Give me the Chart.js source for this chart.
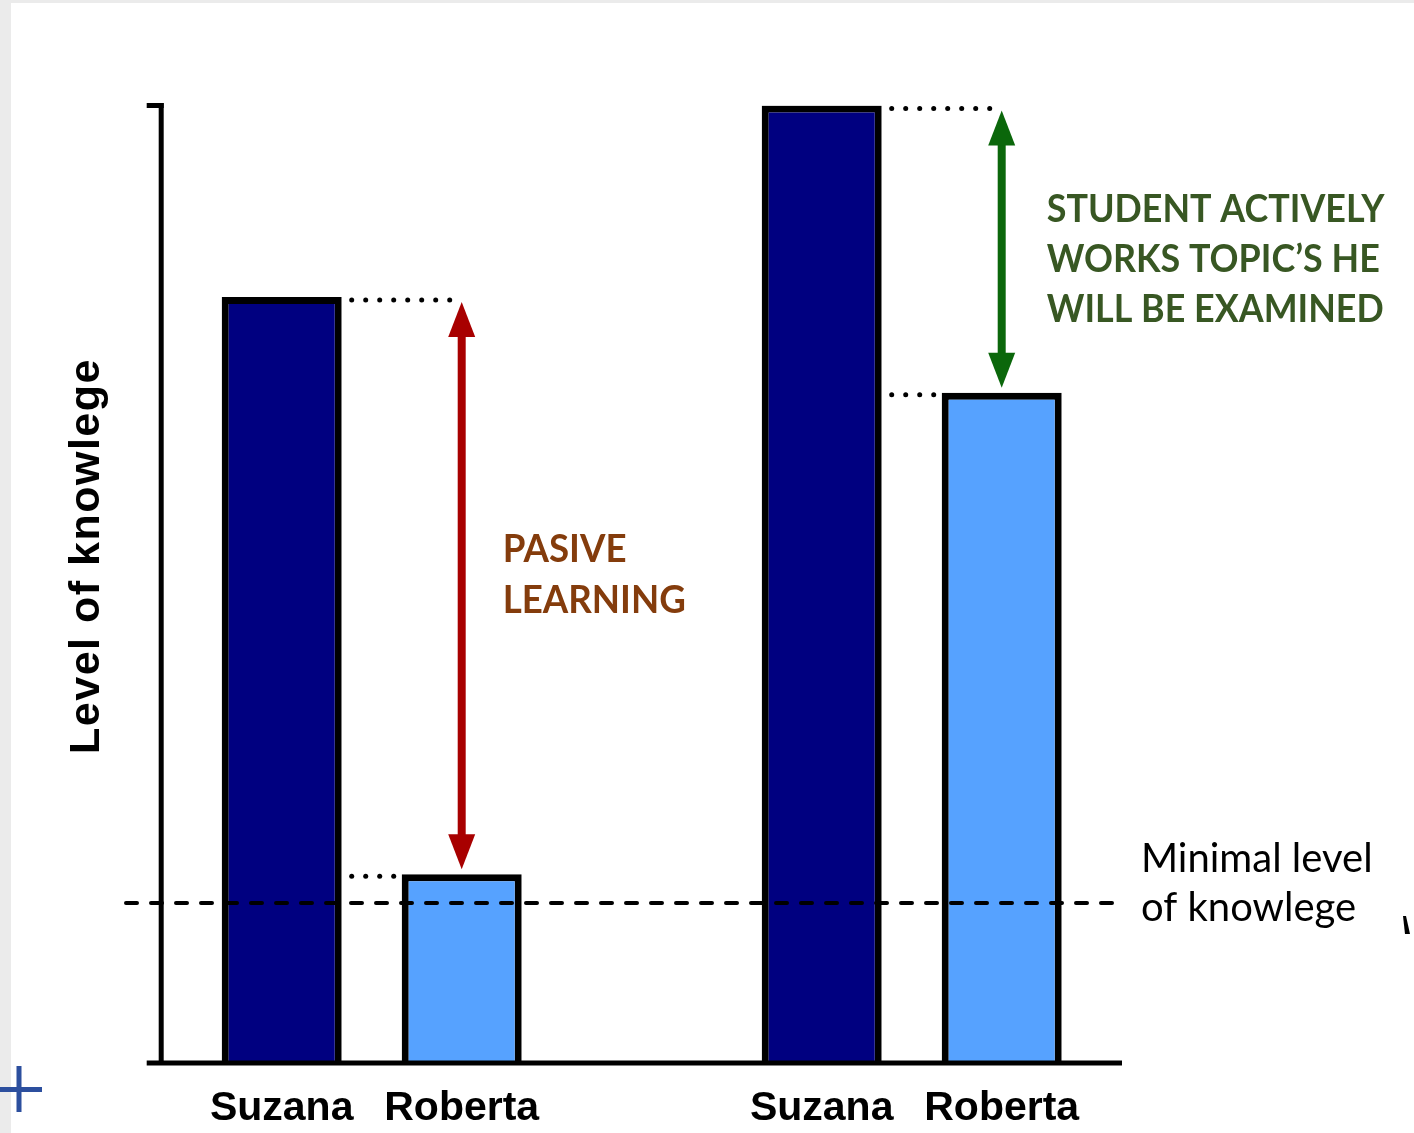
<!DOCTYPE html>
<html>
<head>
<meta charset="utf-8">
<title>Level of knowlege</title>
<script src="https://cdn.jsdelivr.net/npm/chart.js@4/dist/chart.umd.min.js"></script>
<style>
  html, body { margin: 0; padding: 0; background: #ffffff; }
  canvas { display: block; }
</style>
</head>
<body>
<canvas id="chart" width="1414" height="1133"></canvas>
<script>
// Knowledge levels of two students in two learning situations
const categories = ['Suzana', 'Roberta', '', 'Suzana', 'Roberta'];
const knowledge = [80, 19.7, null, 100, 70];
const studentKind = ['strong', 'weak', null, 'strong', 'weak'];
const minimalLevel = 16.7;
const levelMax = 100;

// pairs of bars whose gap is marked by an arrow: [upper bar, lower bar]
const gapPairs = [[0, 1], [3, 4]];

const yTitle = 'Level of knowlege';
const passiveLabel = ['PASIVE', 'LEARNING'];
const activeLabel = ['STUDENT ACTIVELY', 'WORKS TOPIC\u2019S HE', 'WILL BE EXAMINED'];
const minimalLabel = ['Minimal level', 'of knowlege'];

const kindColors = { strong: '#000080', weak: '#56a2ff' };
const arrowColors = ['#a80000', '#0b670b'];

function dottedLine(ctx, x1, x2, y) {
  ctx.fillStyle = '#000';
  for (let x = x1; x <= x2 + 0.5; x += 14) {
    ctx.beginPath();
    ctx.arc(x, y, 2.5, 0, Math.PI * 2);
    ctx.fill();
  }
}

function doubleArrow(ctx, x, yTop, yBottom, color) {
  const headLen = 35, headHalf = 13.5;
  ctx.strokeStyle = color;
  ctx.fillStyle = color;
  ctx.lineWidth = 8;
  ctx.lineCap = 'butt';
  ctx.beginPath();
  ctx.moveTo(x, yTop + headLen - 2);
  ctx.lineTo(x, yBottom - headLen + 2);
  ctx.stroke();
  ctx.beginPath();
  ctx.moveTo(x, yTop);
  ctx.lineTo(x + headHalf, yTop + headLen);
  ctx.lineTo(x - headHalf, yTop + headLen);
  ctx.closePath();
  ctx.fill();
  ctx.beginPath();
  ctx.moveTo(x, yBottom);
  ctx.lineTo(x + headHalf, yBottom - headLen);
  ctx.lineTo(x - headHalf, yBottom - headLen);
  ctx.closePath();
  ctx.fill();
}

// writes lines of text condensed horizontally by the given factor
function noteLines(ctx, lines, x, y0, step, squeeze) {
  lines.forEach((t, i) => {
    ctx.save();
    ctx.translate(x, y0 + i * step);
    ctx.scale(squeeze, 1);
    ctx.fillText(t, 0, 0);
    ctx.restore();
  });
}

const pageFrame = {
  id: 'pageFrame',
  beforeDraw(chart) {
    const ctx = chart.ctx;
    ctx.save();
    ctx.fillStyle = '#ebebeb';
    ctx.fillRect(0, 0, chart.width, chart.height);
    ctx.fillStyle = '#ffffff';
    ctx.fillRect(11, 3, chart.width - 11, chart.height - 3);
    ctx.restore();
  },
  afterDraw(chart) {
    const ctx = chart.ctx;
    ctx.save();
    // small blue cross in the corner
    ctx.fillStyle = '#2c4f9e';
    ctx.fillRect(0, 1087, 42, 5);
    ctx.fillRect(16.5, 1066, 5, 46);
    // clipped glyph at the right edge
    ctx.fillStyle = '#000';
    ctx.beginPath();
    ctx.moveTo(1403, 916);
    ctx.lineTo(1406, 916);
    ctx.lineTo(1410, 934);
    ctx.lineTo(1405, 934);
    ctx.closePath();
    ctx.fill();
    ctx.restore();
  }
};

const knowledgeMarks = {
  id: 'knowledgeMarks',
  afterDatasetsDraw(chart) {
    const ctx = chart.ctx;
    const ys = chart.scales.y;
    const bars = chart.getDatasetMeta(0).data;
    const base = ys.getPixelForValue(0);
    const top = ys.getPixelForValue(levelMax);
    const axisLeft = chart.chartArea.left - 30.5;
    ctx.save();

    // minimal level dashed line
    const yMin = ys.getPixelForValue(minimalLevel);
    ctx.strokeStyle = '#000';
    ctx.lineWidth = 4;
    ctx.lineCap = 'round';
    ctx.setLineDash([11, 14]);
    ctx.beginPath();
    ctx.moveTo(126, yMin);
    ctx.lineTo(1114, yMin);
    ctx.stroke();
    ctx.setLineDash([]);

    // axes
    ctx.lineCap = 'butt';
    ctx.lineWidth = 5;
    ctx.beginPath();
    ctx.moveTo(axisLeft, top - 2.5);
    ctx.lineTo(axisLeft, base);
    ctx.stroke();
    ctx.beginPath();
    ctx.moveTo(axisLeft - 14.5, top);
    ctx.lineTo(axisLeft + 2.5, top);
    ctx.stroke();
    ctx.beginPath();
    ctx.moveTo(axisLeft - 14.5, base);
    ctx.lineTo(1122, base);
    ctx.stroke();

    // gaps between the upper and the lower bar of each pair
    gapPairs.forEach(([hi, lo], k) => {
      const upper = bars[hi], lower = bars[lo];
      const yHi = ys.getPixelForValue(knowledge[hi]);
      const yLo = ys.getPixelForValue(knowledge[lo]);
      const upperRight = upper.x + upper.width / 2;
      const lowerLeft = lower.x - lower.width / 2;
      dottedLine(ctx, upperRight + 10, lower.x - 6, yHi + 3);
      dottedLine(ctx, upperRight + 10, lowerLeft - 3, yLo + 2);
      doubleArrow(ctx, lower.x, yHi + 5, yLo - 5, arrowColors[k]);
    });

    // notes
    ctx.textAlign = 'left';
    ctx.textBaseline = 'alphabetic';
    ctx.font = 'bold 39px Lato';
    ctx.fillStyle = '#843c0c';
    noteLines(ctx, passiveLabel, bars[1].x + 41, 562, 51, 0.94);

    ctx.fillStyle = '#385723';
    noteLines(ctx, activeLabel, bars[4].x + 45, 222, 50, 0.92);

    ctx.font = '40px Lato';
    ctx.fillStyle = '#000';
    noteLines(ctx, minimalLabel, 1141, yMin - 31, 49, 1);

    // vertical axis title
    ctx.save();
    ctx.translate(99, 556);
    ctx.rotate(-Math.PI / 2);
    ctx.textAlign = 'center';
    ctx.font = 'bold 43px "Liberation Sans"';
    ctx.letterSpacing = '1.5px';
    ctx.fillStyle = '#000';
    ctx.fillText(yTitle, 0, 0);
    ctx.restore();

    ctx.restore();
  }
};

new Chart(document.getElementById('chart'), {
  type: 'bar',
  data: {
    labels: categories,
    datasets: [{
      data: knowledge,
      backgroundColor: studentKind.map(k => k ? kindColors[k] : 'transparent'),
      borderColor: '#000',
      borderWidth: 7,
      borderSkipped: 'start',
      inflateAmount: 0,
      barPercentage: 2 / 3,
      categoryPercentage: 1
    }]
  },
  options: {
    responsive: false,
    animation: false,
    devicePixelRatio: 1,
    layout: { padding: { left: 191.7, right: 322.3, top: 105.5, bottom: 0 } },
    plugins: { legend: { display: false }, tooltip: { enabled: false } },
    scales: {
      x: {
        grid: { display: false, drawTicks: false },
        border: { display: false },
        ticks: {
          color: '#000',
          padding: 21,
          maxRotation: 0,
          autoSkip: false,
          font: { family: '"Liberation Sans", Arial, sans-serif', weight: 'bold', size: 41, lineHeight: 1.2 }
        },
        afterFit(scale) { scale.height = 70; }
      },
      y: { display: false, min: 0, max: levelMax }
    }
  },
  plugins: [pageFrame, knowledgeMarks]
});
</script>
</body>
</html>
